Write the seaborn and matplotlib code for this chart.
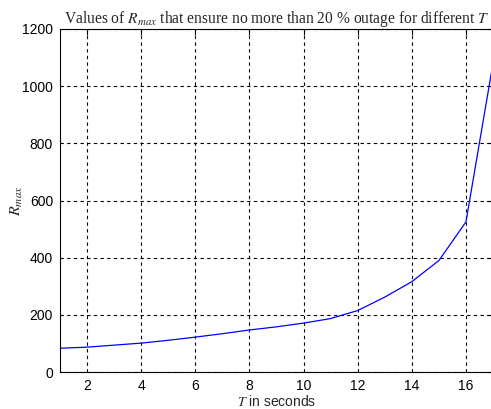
import numpy as np
import pandas as pd
import matplotlib
matplotlib.use("Agg")
import matplotlib.pyplot as plt
import seaborn as sns

# data
T = [1, 2, 3, 4, 5, 6, 7, 8, 9, 10, 11, 12, 13, 14, 15, 16, 17]
R_max = [83, 87, 94, 101, 111, 122, 134, 147, 158, 171, 187, 215, 262, 316, 390, 525, 1080]
x_ticks = [2, 4, 6, 8, 10, 12, 14, 16]
y_ticks = [0, 200, 400, 600, 800, 1000, 1200]

df = pd.DataFrame({"T": T, "R_max": R_max})

sns.set_style("white")
plt.rcParams["font.family"] = ["Liberation Sans", "DejaVu Sans"]
plt.rcParams["mathtext.fontset"] = "stix"

fig = plt.figure(figsize=(4.91, 4.09), dpi=100)
ax = fig.add_axes([60 / 491, 37 / 409, 433 / 491, 343 / 409])

sns.lineplot(data=df, x="T", y="R_max", ax=ax, color="#0000ff", linewidth=0.9)

ax.set_xlim(1, 17)
ax.set_ylim(0, 1200)
ax.set_xticks(x_ticks)
ax.set_yticks(y_ticks)
ax.grid(True, color="black", linestyle=(0, (3, 3)), linewidth=0.8)
ax.tick_params(direction="in", length=4, width=0.8, top=True, right=True,
               labelsize=10, colors="black", pad=5)
for s in ax.spines.values():
    s.set_visible(True)
    s.set_color("black")
    s.set_linewidth(0.8)

ax.set_title(r"Values of $R_{max}$ that ensure no more than 20 % outage for different $T$",
             family="Liberation Serif", fontsize=11.2, pad=4)
ax.set_xlabel(r"$T$ in seconds", fontsize=10, labelpad=1)
ax.set_ylabel(r"$R_{max}$", fontsize=11.5, labelpad=-2)

fig.savefig("out.png", dpi=100)
